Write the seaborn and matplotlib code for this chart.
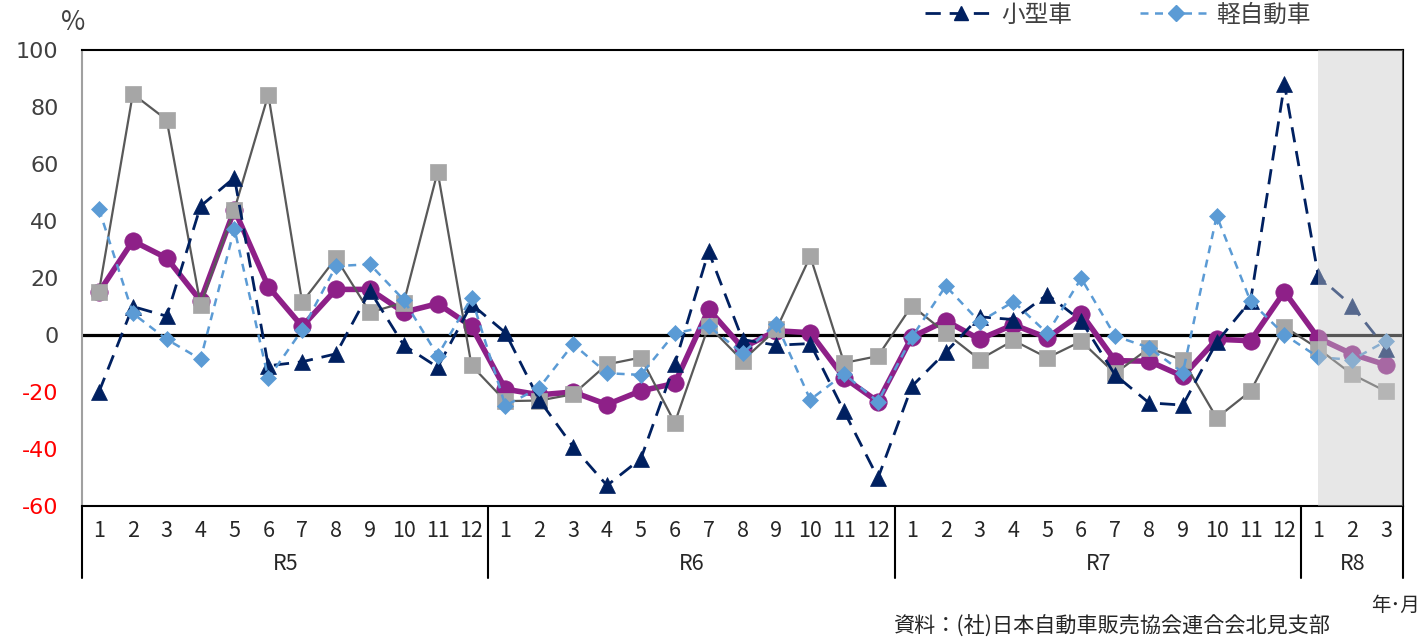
import numpy as np
import pandas as pd
import matplotlib
matplotlib.use("Agg")
import matplotlib.pyplot as plt
import matplotlib.transforms as mtransforms
from matplotlib.lines import Line2D
from matplotlib.patches import Rectangle
import seaborn as sns

# ---- data: year-on-year change of new car registrations (%) ----
years = ["R5", "R6", "R7", "R8"]
months_per_year = [12, 12, 12, 3]
month_labels = [str(m) for n in months_per_year for m in range(1, n + 1)]

total = [15, 33, 27, 12, 44, 17, 3, 16, 16, 8, 11, 3,
         -19, -21, -20, -24.4, -19.6, -17, 9, -4.5, 1.5, 0.8, -15, -23.4,
         -0.7, 5, -1.5, 3.6, -1, 7.5, -9, -9.2, -14.5, -1.5, -2, 15.2,
         -1.1, -6.7, -10.5]
futsu = [15.2, 84.6, 75.5, 10.6, 44, 84.3, 11.5, 27, 7.9, 11.4, 57.3, -10.7,
         -23.2, -23, -20.8, -10.3, -7.9, -30.8, 3.2, -9, 2, 27.6, -9.8, -7.4,
         10.3, 0.7, -8.6, -1.9, -8, -2.2, -13.5, -4.6, -8.8, -29.1, -19.7, 2.9,
         -4.8, -13.8, -19.8]
kogata = [-20, 10, 6.6, 45.2, 55.2, -10.8, -9.4, -6.6, 15.5, -3.6, -11.3, 10.8,
          0.8, -22.8, -39.2, -52.8, -43.4, -10.2, 29.3, -1.6, -3.6, -3.0, -26.8, -50.2,
          -18, -6, 6.4, 5.4, 14.2, 5, -14, -23.8, -24.6, -2.5, 12, 88,
          20.6, 10.2, -4.8]
kei = [44.2, 7.6, -1.5, -8.5, 37.3, -15.2, 1.8, 24.2, 24.8, 12.3, -7.2, 13.1,
       -24.8, -18.5, -3.2, -13.4, -14, 0.6, 3.1, -6.4, 4, -22.7, -13.7, -23.4,
       -0.8, 17.2, 4.6, 11.7, 0.6, 19.9, -0.4, -4.4, -13.2, 41.8, 11.8, 0.1,
       -7.8, -8.7, -2.1]

series_names = ["合計", "普通車", "小型車", "軽自動車"]
y_ticks = [-60, -40, -20, 0, 20, 40, 60, 80, 100]

pos = np.arange(len(month_labels))
df = pd.DataFrame({"pos": pos, "合計": total, "普通車": futsu,
                   "小型車": kogata, "軽自動車": kei})
long_df = df.melt(id_vars="pos", var_name="series", value_name="value")

sns.set_style("white")
plt.rcParams["font.family"] = ["Noto Sans CJK JP", "DejaVu Sans"]
plt.rcParams["axes.unicode_minus"] = False

W, H = 1425, 638
fig = plt.figure(figsize=(W / 100, H / 100), dpi=100)
x0, x1, y0, y1 = 82, 1403, 50, 506
ax = fig.add_axes([x0 / W, 1 - y1 / H, (x1 - x0) / W, (y1 - y0) / H])

styles = {
    "合計": dict(color="#8e2088", marker="o", markersize=12.5, lw=4.0,
                 mec="#8e2088", mfc="#8e2088", dash=None, z=3),
    "普通車": dict(color="#595959", marker="s", markersize=11.5, lw=1.6,
                  mec="#a6a6a6", mfc="#a6a6a6", dash=None, z=4),
    "小型車": dict(color="#002060", marker="^", markersize=11, lw=2.0,
                  mec="#002060", mfc="#002060", dash=(5.5, 3.2), z=5),
    "軽自動車": dict(color="#5b9bd5", marker="D", markersize=8.5, lw=1.8,
                   mec="#5b9bd5", mfc="#5b9bd5", dash=(3.2, 2.6), z=6),
}

ax.axhline(0, color="black", lw=2.3, zorder=2)

for name in series_names:
    st = styles[name]
    sub = long_df[long_df["series"] == name]
    sns.lineplot(data=sub, x="pos", y="value", ax=ax, color=st["color"],
                 marker=st["marker"], markersize=st["markersize"], lw=st["lw"],
                 markeredgecolor=st["mec"], markerfacecolor=st["mfc"],
                 markeredgewidth=0.5, zorder=st["z"], legend=False)
    line = ax.lines[-1]
    if st["dash"] is not None:
        line.set_dashes(st["dash"])

# shaded band over the latest (preliminary) months
ax.add_patch(Rectangle((36, -60), 2.5, 160, facecolor="#c9c9c9",
                       alpha=0.43, edgecolor="none", zorder=10))

ax.set_xlim(-0.5, len(pos) - 0.5)
ax.set_ylim(-60, 100)
ax.set_xlabel("")
ax.set_ylabel("")

ax.set_yticks(y_ticks)
ax.set_yticklabels([str(v) for v in y_ticks])
for lab, v in zip(ax.get_yticklabels(), y_ticks):
    lab.set_color("#ff0000" if v < 0 else "#404040")
    lab.set_fontsize(16)
    lab.set_family(["DejaVu Sans"])
ax.tick_params(axis="y", length=0, pad=17)

ax.set_xticks(pos)
ax.set_xticklabels(month_labels, fontsize=15.5, color="#262626")
ax.tick_params(axis="x", length=0, pad=10)

for side in ["top", "right", "bottom"]:
    ax.spines[side].set_color("black")
    ax.spines[side].set_linewidth(1.5)
ax.spines["left"].set_color("#a0a0a0")
ax.spines["left"].set_linewidth(1.5)

# year grouping under the month labels
trans = mtransforms.blended_transform_factory(ax.transData, ax.transAxes)
bounds = np.concatenate([[0], np.cumsum(months_per_year)]) - 0.5
for b in bounds:
    ax.add_line(Line2D([b, b], [0, -0.158], transform=trans, color="black",
                       lw=1.5, clip_on=False))
for yr, a, b in zip(years, bounds[:-1], bounds[1:]):
    ax.text((a + b) / 2, -0.128, yr, transform=trans, ha="center",
            va="center", fontsize=15.5, color="#262626")

fig.text(73 / W, 1 - 23 / H, "%", ha="center", va="center", fontsize=19,
         color="#404040")
fig.text(1395 / W, 1 - 605 / H, "年･月", ha="center", va="center",
         fontsize=14, color="#262626")
fig.text(1330 / W, 1 - 627 / H, "資料：(社)日本自動車販売協会連合会北見支部",
         ha="right", va="center", fontsize=15.2, color="#262626")

handles = []
for name in ["小型車", "軽自動車"]:
    st = styles[name]
    h = Line2D([], [], color=st["color"], marker=st["marker"],
               markersize=st["markersize"] * 0.95, lw=st["lw"],
               markeredgecolor=st["mec"], markerfacecolor=st["mfc"])
    h.set_dashes(st["dash"])
    handles.append(h)
fig.legend(handles, ["小型車", "軽自動車"], loc="center left",
           bbox_to_anchor=(904 / W, 1 - 15 / H), ncol=2, frameon=False,
           fontsize=17, handlelength=3.0, columnspacing=2.9, numpoints=1,
           handletextpad=0.2, labelcolor="#404040")

fig.savefig("out.png", dpi=100)
